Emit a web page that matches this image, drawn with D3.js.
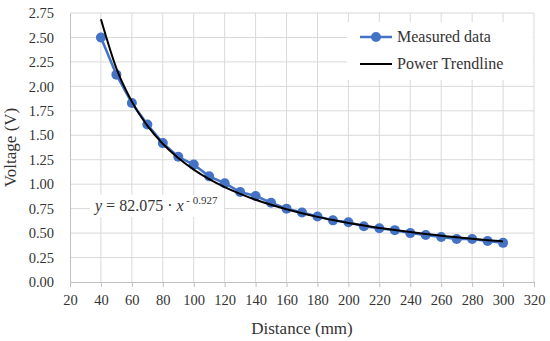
<!DOCTYPE html>
<meta charset="utf-8">
<script src="https://d3js.org/d3.v7.min.js"></script>
<style>
  body { margin: 0; background: white; }
  text { font-family: "Liberation Serif", "DejaVu Serif", serif; fill: #333; }
</style>
<div id="chart"></div>
<script>
const distance = [40, 50, 60, 70, 80, 90, 100, 110, 120, 130, 140, 150, 160, 170, 180, 190, 200, 210, 220, 230, 240, 250, 260, 270, 280, 290, 300];
const voltage = [2.50, 2.12, 1.83, 1.61, 1.42, 1.28, 1.20, 1.08, 1.01, 0.92, 0.88, 0.81, 0.75, 0.71, 0.67, 0.63, 0.61, 0.57, 0.55, 0.53, 0.50, 0.48, 0.46, 0.44, 0.44, 0.42, 0.40];
// power trendline y = 82.075 x^-0.927, values at the same distances
const trend = [2.686, 2.184, 1.844, 1.599, 1.413, 1.267, 1.149, 1.051, 0.970, 0.901, 0.841, 0.789, 0.743, 0.702, 0.666, 0.634, 0.604, 0.577, 0.553, 0.531, 0.510, 0.491, 0.474, 0.457, 0.442, 0.428, 0.415];
const xTicks = d3.range(20, 321, 20);
const yTicks = d3.range(0, 2.751, 0.25);

const width = 550, height = 341;
const margin = {top: 13, right: 16, bottom: 59, left: 70};

const svg = d3.select("#chart").append("svg")
  .attr("width", width)
  .attr("height", height);

const x = d3.scaleLinear().domain([20, 320]).range([margin.left, width - margin.right]);
const y = d3.scaleLinear().domain([0, 2.75]).range([height - margin.bottom, margin.top]);

// gridlines
svg.append("g").selectAll("line").data(xTicks.slice(1)).join("line")
  .attr("x1", d => x(d)).attr("x2", d => x(d))
  .attr("y1", y(0)).attr("y2", y(2.75))
  .attr("stroke", "#d9d9d9").attr("stroke-width", 1);
svg.append("g").selectAll("line").data(yTicks.slice(1)).join("line")
  .attr("x1", x(20)).attr("x2", x(320))
  .attr("y1", d => y(d)).attr("y2", d => y(d))
  .attr("stroke", "#d9d9d9").attr("stroke-width", 1);

// axes
const xAxis = svg.append("g")
  .attr("transform", `translate(0,${y(0)})`)
  .call(d3.axisBottom(x).tickValues(xTicks).tickSize(5).tickPadding(8).tickFormat(d3.format("d")));
const yAxis = svg.append("g")
  .attr("transform", `translate(${x(20)},0)`)
  .call(d3.axisLeft(y).tickValues(yTicks).tickSize(0).tickPadding(16).tickFormat(d3.format(".2f")));
[xAxis, yAxis].forEach(a => {
  a.selectAll("path").attr("stroke", "#bfbfbf");
  a.selectAll("line").attr("stroke", "#bfbfbf");
  a.selectAll("text").style("font-size", "14.5px").attr("fill", "#404040")
    .style("font-family", "'Liberation Serif', serif");
});

// axis titles
svg.append("text")
  .attr("x", (x(20) + x(320)) / 2).attr("y", 334)
  .attr("text-anchor", "middle").style("font-size", "17px").attr("fill", "#404040")
  .text("Distance (mm)");
svg.append("text")
  .attr("transform", `translate(16,${(y(0) + y(2.75)) / 2}) rotate(-90)`)
  .attr("text-anchor", "middle").style("font-size", "17px").attr("fill", "#404040")
  .text("Voltage (V)");

// measured data
const pts = distance.map((d, i) => [d, voltage[i]]);
svg.append("path").datum(pts)
  .attr("fill", "none").attr("stroke", "#4472c4").attr("stroke-width", 2.5)
  .attr("d", d3.line().x(d => x(d[0])).y(d => y(d[1])));
svg.append("g").selectAll("circle").data(pts).join("circle")
  .attr("cx", d => x(d[0])).attr("cy", d => y(d[1])).attr("r", 5)
  .attr("fill", "#4472c4");

// trendline
const tpts = distance.map((d, i) => [d, trend[i]]);
svg.append("path").datum(tpts)
  .attr("fill", "none").attr("stroke", "#000").attr("stroke-width", 2)
  .attr("d", d3.line().curve(d3.curveMonotoneX).x(d => x(d[0])).y(d => y(d[1])));

// equation label
const eq = svg.append("g");
eq.append("rect").attr("x", 90).attr("y", 195).attr("width", 134).attr("height", 22).attr("fill", "white");
const eqText = eq.append("text").attr("x", 95).attr("y", 211)
  .style("font-size", "16px").attr("fill", "#404040");
eqText.append("tspan").style("font-style", "italic").text("y");
eqText.append("tspan").text(" = 82.075 · ");
eqText.append("tspan").style("font-style", "italic").text("x");
eqText.append("tspan").attr("dy", -7).style("font-size", "11px").text(" - 0.927");

// legend
const lg = svg.append("g");
lg.append("rect").attr("x", 347).attr("y", 22).attr("width", 186).attr("height", 58).attr("fill", "white");
lg.append("line").attr("x1", 360).attr("x2", 392).attr("y1", 37).attr("y2", 37)
  .attr("stroke", "#4472c4").attr("stroke-width", 2.5);
lg.append("circle").attr("cx", 376).attr("cy", 37).attr("r", 5).attr("fill", "#4472c4");
lg.append("text").attr("x", 397).attr("y", 42).style("font-size", "16px").attr("fill", "#404040").text("Measured data");
lg.append("line").attr("x1", 360).attr("x2", 392).attr("y1", 64).attr("y2", 64)
  .attr("stroke", "#000").attr("stroke-width", 2);
lg.append("text").attr("x", 397).attr("y", 69).style("font-size", "16px").attr("fill", "#404040").text("Power Trendline");
</script>
